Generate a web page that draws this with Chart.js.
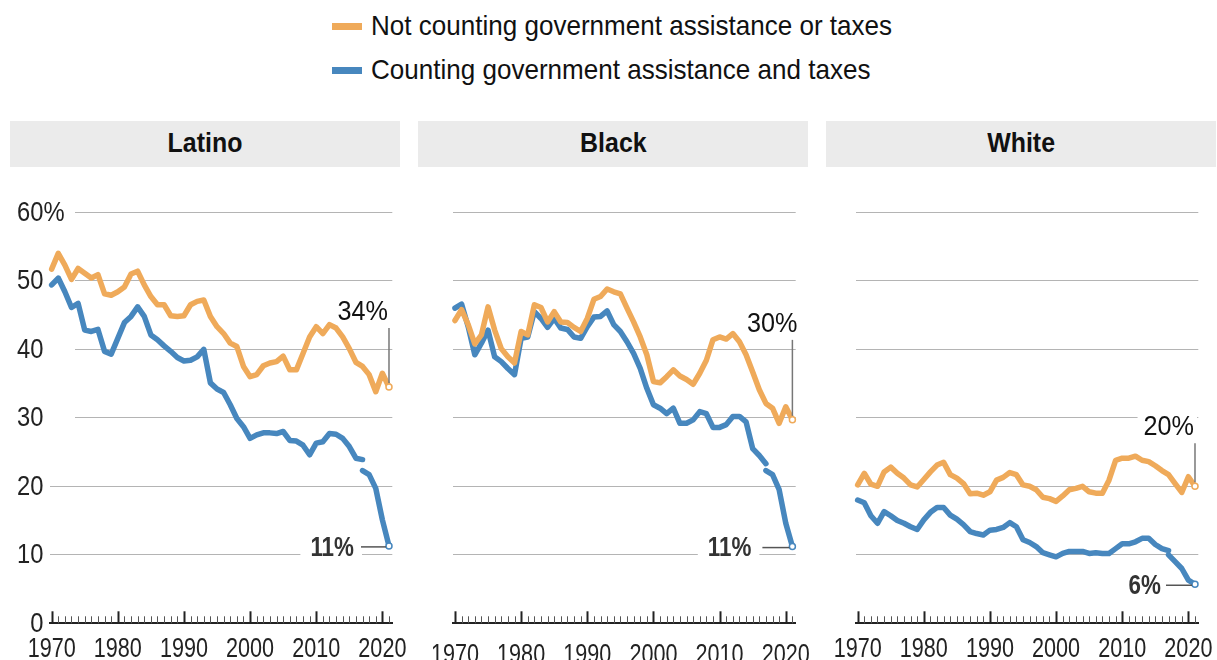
<!DOCTYPE html>
<html><head><meta charset="utf-8">
<script src="https://cdn.jsdelivr.net/npm/chart.js@4.4.1/dist/chart.umd.min.js"></script>
<style>
html,body{margin:0;padding:0;width:1217px;height:660px;overflow:hidden;background:#fff;}
#root{position:relative;width:1217px;height:660px;overflow:hidden;font-family:"Liberation Sans",Arial,sans-serif;}
.leg{position:absolute;left:332px;height:32px;line-height:32px;display:flex;align-items:center;color:#111;white-space:nowrap;}
.leg .t{display:inline-block;font-size:28px;transform:scaleX(0.93);transform-origin:left center;}
.sw{width:30px;height:7px;margin-right:9px;flex:none;}
.hdr{position:absolute;top:121px;height:46px;width:390px;background:#ebebeb;text-align:center;line-height:44px;color:#111;}
.hdr .t{display:inline-block;font-weight:bold;font-size:28px;transform:scaleX(0.89);}
canvas{position:absolute;top:170px;}
</style></head>
<body><div id="root">
<div class="leg" style="top:10px"><span class="sw" style="background:#EFAA5A"></span><span class="t" id="leg0"></span></div>
<div class="leg" style="top:54px"><span class="sw" style="background:#4787BE"></span><span class="t" id="leg1"></span></div>
<div class="hdr" style="left:10px"><span class="t" id="h0"></span></div>
<div class="hdr" style="left:418px"><span class="t" id="h1"></span></div>
<div class="hdr" style="left:826px"><span class="t" id="h2"></span></div>
<canvas id="c0"></canvas><canvas id="c1"></canvas><canvas id="c2"></canvas>
</div>
<script>
// ---------- DATA ----------
const seriesNames = ['Not counting government assistance or taxes', 'Counting government assistance and taxes'];
const groups = ['Latino', 'Black', 'White'];
const years = [1970,1971,1972,1973,1974,1975,1976,1977,1978,1979,
  1980,1981,1982,1983,1984,1985,1986,1987,1988,1989,
  1990,1991,1992,1993,1994,1995,1996,1997,1998,1999,
  2000,2001,2002,2003,2004,2005,2006,2007,2008,2009,
  2010,2011,2012,2013,2014,2015,2016,2017,2018,2019,
  2020,2021];
const yTicks = [0, 10, 20, 30, 40, 50, 60];
const decadeLabels = [1970, 1980, 1990, 2000, 2010, 2020];
const breakYear = 2017; // redesigned survey: second estimate for 2017

const latinoOrange = [51.7,54.0,52.3,50.2,51.8,51.1,50.4,50.9,48.1,47.9,
  48.4,49.1,51.0,51.4,49.4,47.7,46.5,46.5,44.9,44.8,
  44.9,46.5,47.0,47.2,44.8,43.3,42.3,40.9,40.4,37.5,
  36.0,36.3,37.6,38.0,38.2,39.0,37.0,37.0,39.4,41.8,
  43.3,42.3,43.6,43.1,41.8,40.1,38.1,37.5,36.3,33.8,
  36.5,34.5];
const latinoBlue = [49.4,50.4,48.4,46.1,46.7,42.8,42.6,42.9,39.7,39.3,
  41.6,43.9,44.8,46.2,44.8,42.1,41.4,40.5,39.7,38.8,
  38.3,38.4,38.9,40.0,35.1,34.2,33.7,31.9,29.9,28.7,
  27.0,27.5,27.8,27.8,27.7,28.0,26.7,26.6,26.0,24.6,
  26.3,26.5,27.7,27.6,27.0,25.8,24.1,23.9,21.7,19.7,
  15.1,11.3];
const latinoBlue2017New = 22.3;

const blackOrange = [44.2,45.8,43.6,40.8,42.1,46.2,42.8,40.1,38.9,38.0,
  42.6,42.1,46.5,46.1,44.0,45.5,44.0,43.9,43.2,42.6,
  44.5,47.3,47.7,48.8,48.4,48.1,46.0,44.0,41.8,39.2,
  35.3,35.1,36.0,37.0,36.1,35.6,34.9,36.5,38.4,41.4,
  41.8,41.5,42.3,41.1,39.2,36.7,34.1,32.1,31.4,29.2,
  31.6,29.7];
const blackBlue = [46.0,46.6,43.3,39.2,40.9,42.8,38.9,38.2,37.2,36.3,
  41.6,41.8,45.5,44.5,43.2,44.5,43.1,42.9,41.8,41.6,
  43.3,44.7,44.8,45.6,43.6,42.6,41.1,39.4,37.2,34.3,
  31.9,31.4,30.6,31.4,29.2,29.2,29.7,30.9,30.6,28.6,
  28.6,29.0,30.2,30.2,29.4,25.5,24.5,23.3,21.7,19.5,
  14.6,11.2];
const blackBlue2017New = 22.3;

const whiteOrange = [20.2,21.9,20.3,20.0,22.1,22.8,21.9,21.2,20.2,19.9,
  21.0,22.1,23.1,23.5,21.7,21.2,20.4,18.9,19.0,18.7,
  19.2,20.9,21.3,22.0,21.7,20.2,20.0,19.5,18.4,18.2,
  17.8,18.6,19.5,19.7,20.0,19.2,19.0,19.0,20.9,23.8,
  24.1,24.1,24.4,23.8,23.6,23.0,22.3,21.7,20.4,19.1,
  21.4,20.0];
const whiteBlue = [18.0,17.6,15.7,14.6,16.3,15.7,15.0,14.6,14.1,13.7,
  15.1,16.2,16.9,16.9,15.8,15.2,14.4,13.4,13.1,12.9,
  13.6,13.7,14.0,14.7,14.1,12.2,11.8,11.2,10.3,10.0,
  9.7,10.2,10.5,10.5,10.5,10.2,10.3,10.2,10.2,10.9,
  11.6,11.6,11.9,12.4,12.4,11.5,10.9,10.6,9.0,8.0,
  6.3,5.7];
const whiteBlue2017New = 10.0;

const orangeEndLabels = ['34%', '30%', '20%'];
const blueEndLabels = ['11%', '11%', '6%'];

// ---------- STYLE ----------
const ORANGE = '#EFAA5A', BLUE = '#4787BE';
const FAM = '"Liberation Sans", Arial, sans-serif';
document.getElementById('leg0').textContent = seriesNames[0];
document.getElementById('leg1').textContent = seriesNames[1];
groups.forEach((g, i) => document.getElementById('h' + i).textContent = g);

const panelStyle = [
  {left: 0,   width: 410, padL: 50,   padR: 17.7, labelBase: 33.4, yLabels: true,  oDx: -1, oDy: 67, bDx: -35, bLine: 28},
  {left: 410, width: 400, padL: 43.3, padR: 14.3, labelBase: 39.5, yLabels: false, oDx: 5,  oDy: 88, bDx: -41, bLine: 30},
  {left: 816, width: 401, padL: 40,   padR: 18.7, labelBase: 33.4, yLabels: false, oDx: -1, oDy: 51, bDx: -34, bLine: 29}
];
const CANVAS_H = 520, AXIS_Y = 453.3;

const panelData = [
  {o: latinoOrange, b: latinoBlue, bNew: latinoBlue2017New},
  {o: blackOrange, b: blackBlue, bNew: blackBlue2017New},
  {o: whiteOrange, b: whiteBlue, bNew: whiteBlue2017New}
];

function points(vals, newVal){
  const pts = [];
  years.forEach((yr, i) => {
    pts.push({x: yr, y: vals[i]});
    if (newVal !== undefined && yr === breakYear) {
      pts.push({x: yr, y: null});
      pts.push({x: yr, y: newVal});
    }
  });
  return pts;
}

// draw horizontally condensed text
function condText(ctx, text, x, y, font, sx, align, baseline, color){
  ctx.save();
  ctx.font = font; ctx.fillStyle = color;
  ctx.textAlign = align; ctx.textBaseline = baseline;
  ctx.translate(x, y); ctx.scale(sx, 1);
  ctx.fillText(text, 0, 0);
  const w = ctx.measureText(text).width * sx;
  ctx.restore();
  return w;
}
function condWidth(ctx, text, font, sx){
  ctx.save(); ctx.font = font; const w = ctx.measureText(text).width * sx; ctx.restore(); return w;
}

const O_FONT = '28px ' + FAM, O_SX = 0.9;
const B_FONT = 'bold 28px ' + FAM, B_SX = 0.8;

const panelPlugin = {
  id: 'panelDecor',
  beforeDatasetsDraw(chart, args, opts) {
    const ctx = chart.ctx, xs = chart.scales.x, ys = chart.scales.y, area = chart.chartArea;
    ctx.save();
    ctx.fillStyle = '#fff';
    if (opts.yLabels) {
      yTicks.forEach(v => {
        if (v >= 30) { const y = ys.getPixelForValue(v); ctx.fillRect(area.left - 1, y - 3, 26, 6); }
      });
    }
    // white boxes behind end labels (break the gridlines)
    const d = opts.data, last = years[years.length - 1];
    const xo = xs.getPixelForValue(last);
    const yo = ys.getPixelForValue(d.o[d.o.length - 1]);
    const w1 = condWidth(ctx, opts.oLabel, O_FONT, O_SX);
    const bx = xo + opts.oDx, by = yo - opts.oDy;
    ctx.fillRect(bx - w1 - 6, by - 24, w1 + 9, 30);
    const yb = ys.getPixelForValue(d.b[d.b.length - 1]);
    const w2 = condWidth(ctx, opts.bLabel, B_FONT, B_SX);
    const tx = xo + opts.bDx;
    ctx.fillRect(tx - w2 - 10, yb - 14, w2 + 18, 28);
    ctx.restore();
  },
  afterDatasetsDraw(chart, args, opts) {
    const ctx = chart.ctx, xs = chart.scales.x, ys = chart.scales.y, area = chart.chartArea;
    ctx.save();
    // x-axis year tick marks and decade labels
    years.forEach(yr => {
      const x = Math.round(xs.getPixelForValue(yr)) + 0.5;
      const major = decadeLabels.includes(yr);
      ctx.strokeStyle = major ? '#222' : '#555';
      ctx.lineWidth = major ? 2 : 1;
      ctx.beginPath();
      ctx.moveTo(x, area.bottom);
      ctx.lineTo(x, area.bottom - (major ? 12 : 7));
      ctx.stroke();
    });
    decadeLabels.forEach(yr => {
      condText(ctx, String(yr), xs.getPixelForValue(yr), area.bottom + opts.labelBase,
        '27px ' + FAM, 0.8, 'center', 'alphabetic', '#222');
    });
    // y labels
    if (opts.yLabels) {
      const xr = area.left - 6.5;
      yTicks.forEach(v => {
        const y = ys.getPixelForValue(v) + 1;
        condText(ctx, String(v), xr, y, '27px ' + FAM, 0.88, 'right', 'middle', '#222');
        if (v === yTicks[yTicks.length - 1]) condText(ctx, '%', xr, y, '27px ' + FAM, 0.88, 'left', 'middle', '#222');
      });
    }
    // end labels
    const d = opts.data, last = years[years.length - 1];
    const xo = xs.getPixelForValue(last);
    const yo = ys.getPixelForValue(d.o[d.o.length - 1]);
    const bx = xo + opts.oDx, by = yo - opts.oDy;
    condText(ctx, opts.oLabel, bx, by, O_FONT, O_SX, 'right', 'alphabetic', '#111');
    ctx.strokeStyle = '#777'; ctx.lineWidth = 1.5;
    ctx.beginPath(); ctx.moveTo(xo, by + 8); ctx.lineTo(xo, yo - 4); ctx.stroke();
    const yb = ys.getPixelForValue(d.b[d.b.length - 1]);
    const tx = xo + opts.bDx;
    condText(ctx, opts.bLabel, tx, yb + 2, B_FONT, B_SX, 'right', 'middle', '#333');
    ctx.strokeStyle = '#555'; ctx.lineWidth = 1.5;
    ctx.beginPath(); ctx.moveTo(xo - opts.bLine, yb + 1); ctx.lineTo(xo - 3, yb + 1); ctx.stroke();
    ctx.restore();
  }
};

panelStyle.forEach((st, i) => {
  const cv = document.getElementById('c' + i);
  cv.width = st.width; cv.height = CANVAS_H;
  cv.style.left = st.left + 'px'; cv.style.width = st.width + 'px'; cv.style.height = CANVAS_H + 'px';
  const d = panelData[i];
  const oPts = points(d.o), bPts = points(d.b, d.bNew);
  const mk = (pts, color) => ({
    data: pts, borderColor: color, borderWidth: 5.5, tension: 0, spanGaps: false,
    borderJoinStyle: 'round', borderCapStyle: 'round', clip: false,
    pointRadius: c => c.dataIndex === pts.length - 1 ? 3 : 0,
    pointBackgroundColor: '#fff', pointBorderColor: color, pointBorderWidth: 1.5
  });
  new Chart(cv, {
    type: 'line',
    data: {datasets: [mk(oPts, ORANGE), mk(bPts, BLUE)]},
    options: {
      responsive: false, animation: false, events: [],
      layout: {padding: {left: st.padL, right: st.padR, top: 42.3, bottom: CANVAS_H - AXIS_Y}},
      plugins: {legend: {display: false}, tooltip: {enabled: false},
        panelDecor: {yLabels: st.yLabels, data: d, oLabel: orangeEndLabels[i], bLabel: blueEndLabels[i],
          oDx: st.oDx, oDy: st.oDy, bDx: st.bDx, bLine: st.bLine, labelBase: st.labelBase}},
      scales: {
        x: {type: 'linear', min: 1969.75, max: 2021.5,
          grid: {display: false, drawTicks: false},
          border: {display: true, color: '#222', width: 2},
          ticks: {display: false, stepSize: 1}},
        y: {min: 0, max: 60,
          grid: {color: '#b4b4b4', lineWidth: 1, drawTicks: false},
          border: {display: false},
          ticks: {display: false, stepSize: 10}}
      }
    },
    plugins: [panelPlugin]
  });
});
</script>
</body></html>
